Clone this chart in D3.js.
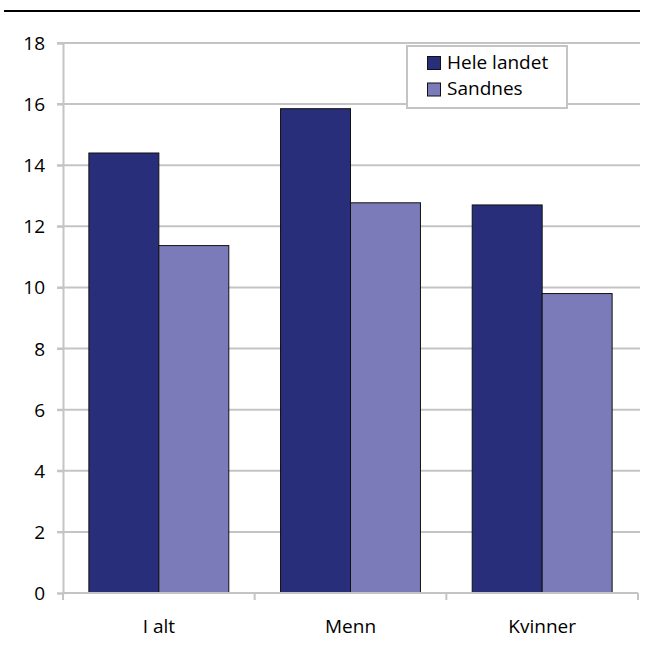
<!DOCTYPE html>
<html><head><meta charset="utf-8">
<script src="https://cdn.jsdelivr.net/npm/d3@7"></script>
<style>body{margin:0;background:#fff}svg{display:block}text{font-family:"Open Sans","Noto Sans",sans-serif;fill:#000}</style>
</head><body>
<script>
const categories = ["I alt", "Menn", "Kvinner"];
const seriesNames = ["Hele landet", "Sandnes"];
const heleLandet = [14.4, 15.85, 12.7];
const sandnes = [11.37, 12.77, 9.8];
const yTicks = [0, 2, 4, 6, 8, 10, 12, 14, 16, 18];
const colors = ["#292e7b", "#7b7bba"];

(function () {
const W = 652, H = 649;
const FS = "19px";
const svg = d3.select("body").append("svg").attr("width", W).attr("height", H);
const pL = 63, pR = 638, pT = 43, pB = 593;

// top rule
svg.append("line").attr("x1", 4).attr("x2", 640).attr("y1", 11).attr("y2", 11)
  .attr("stroke", "#000").attr("stroke-width", 2);

const y = d3.scaleLinear().domain([0, 18]).range([pB, pT]);
const x0 = d3.scaleBand().domain(categories).range([pL, pR]).paddingInner(0.27).paddingOuter(0.135);
const x1 = d3.scaleBand().domain(seriesNames).range([0, x0.bandwidth()]);

// gridlines
svg.append("g").selectAll("line").data(yTicks.filter(d => d > 0)).join("line")
  .attr("x1", pL - 6).attr("x2", pR + 2).attr("y1", d => y(d)).attr("y2", d => y(d))
  .attr("stroke", "#c4c4c4").attr("stroke-width", 2);

// y axis
const ya = svg.append("g").attr("transform", `translate(${pL},0)`)
  .call(d3.axisLeft(y).tickValues(yTicks).tickSize(6).tickPadding(12).tickFormat(d3.format("d")));
ya.attr("font-size", null).attr("font-family", null);
ya.select(".domain").attr("stroke", "#c4c4c4").attr("stroke-width", 2);
ya.selectAll(".tick line").attr("stroke", "#c4c4c4").attr("stroke-width", 2);
ya.selectAll("text").style("font-size", FS).attr("fill", "#000").attr("dy", "0.34em");

// bars
const data = categories.map((c, i) => ({c, vals: [heleLandet[i], sandnes[i]]}));
const g = svg.append("g").selectAll("g").data(data).join("g")
  .attr("transform", d => `translate(${x0(d.c)},0)`);
g.selectAll("rect").data(d => d.vals.map((v, j) => ({v, s: seriesNames[j], j}))).join("rect")
  .attr("x", d => x1(d.s)).attr("width", x1.bandwidth())
  .attr("y", d => y(d.v)).attr("height", d => y(0) - y(d.v))
  .attr("fill", d => colors[d.j]).attr("stroke", "#111").attr("stroke-width", 1);

// x axis
const xa = svg.append("g").attr("transform", `translate(0,${pB})`);
xa.append("line").attr("x1", pL).attr("x2", pR).attr("stroke", "#c4c4c4").attr("stroke-width", 2);
const step = (pR - pL) / categories.length;
xa.selectAll(".tk").data(d3.range(categories.length + 1)).join("line")
  .attr("x1", i => pL + i * step).attr("x2", i => pL + i * step).attr("y1", 0).attr("y2", 7)
  .attr("stroke", "#c4c4c4").attr("stroke-width", 2);
xa.selectAll("text").data(categories).join("text")
  .attr("x", d => x0(d) + x0.bandwidth() / 2).attr("y", 40).attr("text-anchor", "middle")
  .style("font-size", FS).text(d => d);

// legend
const lg = svg.append("g");
lg.append("rect").attr("x", 407).attr("y", 46).attr("width", 160).attr("height", 62)
  .attr("fill", "#fff").attr("stroke", "#c4c4c4").attr("stroke-width", 2);
seriesNames.forEach((s, i) => {
  lg.append("rect").attr("x", 427.5).attr("y", 56.5 + i * 26.5).attr("width", 13).attr("height", 13)
    .attr("fill", colors[i]).attr("stroke", "#111").attr("stroke-width", 1);
  lg.append("text").attr("x", 447).attr("y", 68.7 + i * 26).style("font-size", FS).text(s);
});
})();
</script>
</body></html>
